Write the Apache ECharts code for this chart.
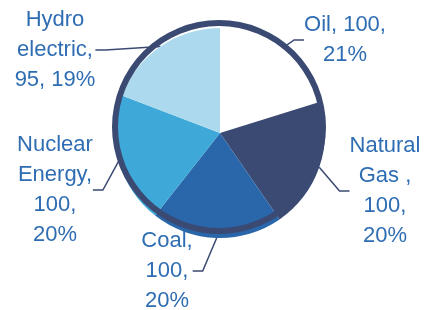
<!DOCTYPE html>
<html>
<head>
<meta charset="utf-8">
<script src="https://cdn.jsdelivr.net/npm/echarts@6/dist/echarts.min.js"></script>
<style>
  html, body { margin: 0; padding: 0; background: #fff; }
  #chart { width: 425px; height: 310px; }
</style>
</head>
<body>
<div id="chart"></div>
<script>
// data
var categories = ['Oil', 'Natural\nGas ', 'Coal', 'Nuclear\nEnergy', 'Hydro\nelectric']
var values = [100, 100, 100, 100, 95]
var labelTemplates = [
  '{b}, {c},\n{d}%',
  '{b},\n{c},\n{d}%',
  '{b},\n{c},\n{d}%',
  '{b},\n{c},\n{d}%',
  '{b},\n{c}, {d}%'
]

var colors = ['#ffffff', '#3a4a72', '#2a67aa', '#3ea8d8', '#acd9ee']
// label centres (px)
var labelPos = [[345, 40], [385, 191], [167, 271], [55, 190], [55, 50]]

var chart = echarts.init(document.getElementById('chart'))

var pieData = categories.map(function (name, i) {
  return {
    name: name,
    value: values[i],
    itemStyle: { color: colors[i] },
    label: { formatter: labelTemplates[i] }
  }
})

chart.setOption({
  animation: false,
  series: [
    {
      type: 'pie',
      center: [220, 133],
      radius: 105,
      startAngle: 90,
      clockwise: true,
      percentPrecision: 0,
      data: pieData,
      itemStyle: { borderWidth: 0 },
      label: {
        show: true,
        position: 'outside',
        fontFamily: 'Liberation Sans, Arial, sans-serif',
        fontSize: 22,
        lineHeight: 30,
        color: '#2f6db3',
        align: 'center'
      },
      labelLine: {
        show: true,
        length: 8,
        length2: 10,
        lineStyle: { color: '#3a4a72', width: 1.5 }
      },
      labelLayout: function (params) {
        var p = labelPos[params.dataIndex]
        return { x: p[0], y: p[1], align: 'center', verticalAlign: 'middle' }
      },
      z: 2
    },
    {
      // dark rim around the pie
      type: 'pie',
      silent: true,
      center: [219, 127],
      radius: [101, 107],
      data: [{ value: 1, itemStyle: { color: '#3a4a72' } }],
      label: { show: false },
      labelLine: { show: false },
      z: 3
    }
  ]
})
</script>
</body>
</html>
